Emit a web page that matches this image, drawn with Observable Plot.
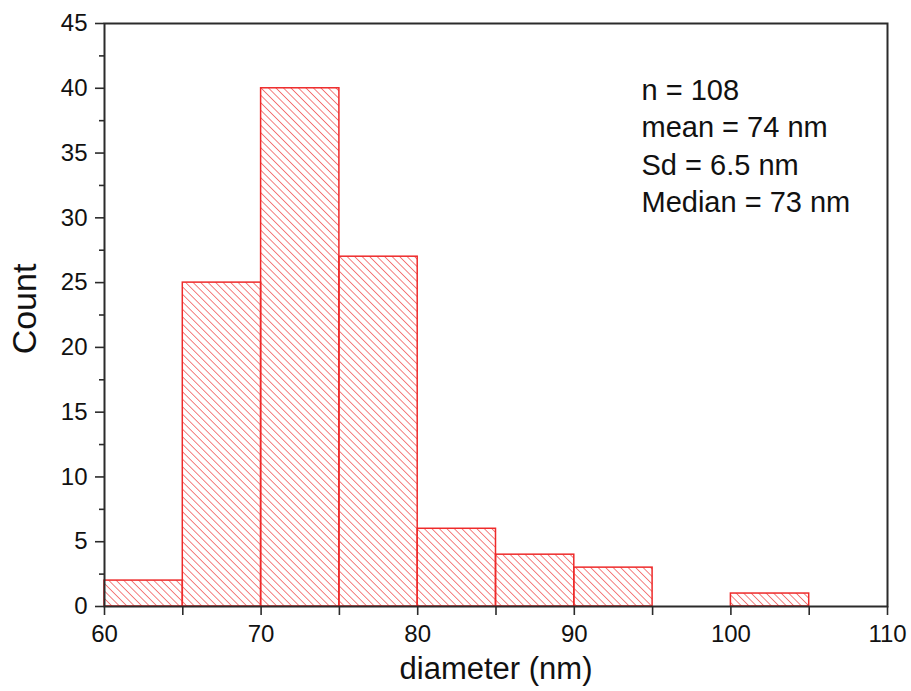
<!DOCTYPE html>
<html><head><meta charset="utf-8">
<script src="https://cdn.jsdelivr.net/npm/d3@7"></script>
<script src="https://cdn.jsdelivr.net/npm/@observablehq/plot@0.6"></script>
<style>body{margin:0;background:#fff}</style>
</head><body><div id="chart"></div>
<script>
const binStart = [60, 65, 70, 75, 80, 85, 90, 95, 100];
const binEnd = [65, 70, 75, 80, 85, 90, 95, 100, 105];
const counts = [2, 25, 40, 27, 6, 4, 3, 0, 1];
const xMajorTicks = [60, 70, 80, 90, 100, 110];
const xMinorTicks = [65, 75, 85, 95, 105];
const yMajorTicks = [0, 5, 10, 15, 20, 25, 30, 35, 40, 45];
const yMinorTicks = [2.5, 7.5, 12.5, 17.5, 22.5, 27.5, 32.5, 37.5, 42.5];
const xTitle = "diameter (nm)";
const yTitle = "Count";
const statsLines = ["n = 108", "mean = 74 nm", "Sd = 6.5 nm", "Median = 73 nm"];

const bins = binStart.map((s, i) => ({x1: s, x2: binEnd[i], count: counts[i]})).filter(d => d.count > 0);

const axisColor = "#2b2b2b";
const barRed = "#ee2a2a";

const chart = Plot.plot({
  width: 911,
  height: 691,
  marginLeft: 104,
  marginRight: 24,
  marginTop: 23,
  marginBottom: 85,
  style: {fontFamily: "'Liberation Sans', Arial, sans-serif", background: "#fff", color: "#111", overflow: "visible"},
  x: {domain: [60, 110]},
  y: {domain: [0, 45]},
  marks: [
    Plot.rect(bins, {x1: "x1", x2: "x2", y1: 0, y2: "count", fill: "url(#hatch)", stroke: barRed, strokeWidth: 1.5}),
    Plot.frame({stroke: axisColor, strokeWidth: 2}),
    Plot.axisY({ticks: yMajorTicks, tickSize: 9, tickPadding: 8, fontSize: 24, label: null, stroke: axisColor, strokeWidth: 1.6}),
    Plot.axisY({ticks: yMinorTicks, tickSize: 5, tickFormat: () => "", label: null, stroke: axisColor, strokeWidth: 1.6}),
    Plot.axisX({ticks: xMajorTicks, tickSize: 9, tickPadding: 9, fontSize: 24, label: null, stroke: axisColor, strokeWidth: 1.6}),
    Plot.axisX({ticks: xMinorTicks, tickSize: 9, tickFormat: () => "", label: null, stroke: axisColor, strokeWidth: 1.6}),
    Plot.text([xTitle], {text: d => d, frameAnchor: "bottom", textAnchor: "middle", lineAnchor: "bottom", dy: 72, fontSize: 31, fill: "#111"}),
    Plot.text([yTitle], {text: d => d, frameAnchor: "left", textAnchor: "middle", lineAnchor: "middle", rotate: -90, dx: -79, dy: -6, fontSize: 34, fill: "#111"}),
    Plot.text([statsLines.join("\n")], {text: d => d, frameAnchor: "top-left", textAnchor: "start", lineAnchor: "top", lineHeight: 1.286, fontSize: 29, dx: 537, dy: 50, fill: "#111"})
  ]
});

d3.select(chart).insert("defs", ":first-child").html(
  `<pattern id="hatch" patternUnits="userSpaceOnUse" width="5.3" height="10" patternTransform="rotate(-45)">
     <line x1="0" y1="0" x2="0" y2="10" stroke="${barRed}" stroke-width="1.2" />
   </pattern>`
);

document.getElementById("chart").appendChild(chart);
</script>
</body></html>
